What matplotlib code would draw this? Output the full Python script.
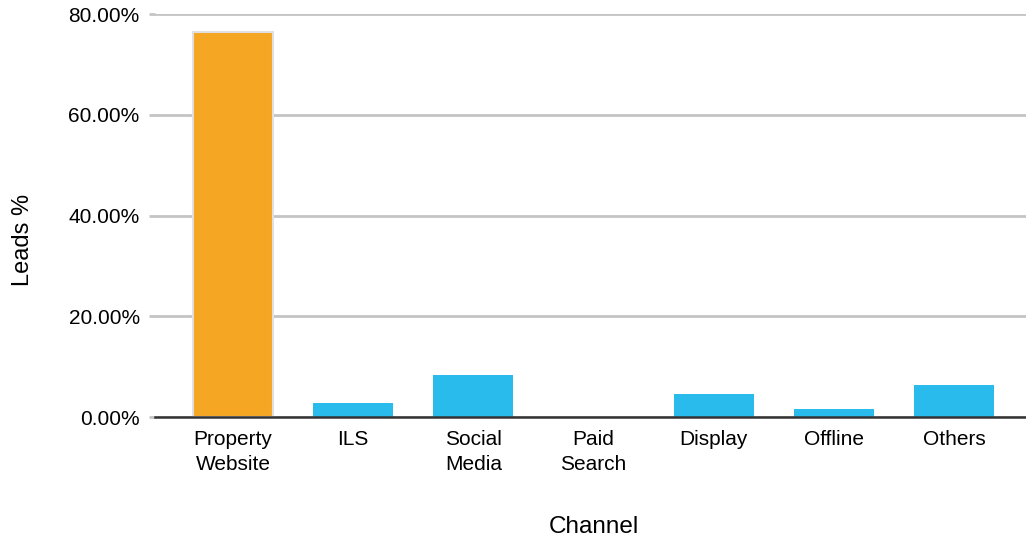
import matplotlib
matplotlib.use('Agg')
import matplotlib.pyplot as plt
from matplotlib.ticker import FuncFormatter

plt.rcParams['font.family'] = ['Liberation Sans', 'DejaVu Sans']

channels = ['Property\nWebsite', 'ILS', 'Social\nMedia', 'Paid\nSearch', 'Display', 'Offline', 'Others']
leads_pct = [76.4, 2.7, 8.3, 0.0, 4.5, 1.65, 6.3]
colors = ['#F5A623'] + ['#29BBEC'] * 6
edges = ['#E0E0E0'] + ['none'] * 6

fig = plt.figure(figsize=(10.26, 5.43), dpi=100)
ax = fig.add_axes([0.151, 0.232, 0.855, 0.742])

x = list(range(len(channels)))
ax.bar(x, leads_pct, width=0.667, color=colors, edgecolor=edges, linewidth=1.5, zorder=3)

ax.set_ylim(0, 80)
ax.set_xlim(-0.65, 6.65)
ax.set_yticks([0, 20, 40, 60, 80])
ax.yaxis.set_major_formatter(FuncFormatter(lambda v, p: f'{v:.2f}%'))
ax.grid(axis='y', color='#C4C4C4', linewidth=2, zorder=0)
ax.set_axisbelow(True)

ax.set_xticks(x)
ax.set_xticklabels(channels, fontsize=15, linespacing=1.42)
ax.tick_params(axis='x', length=0, pad=9)
ax.tick_params(axis='y', length=4, width=2, color='#C4C4C4', labelsize=15, pad=7)

for s in ['top', 'right', 'left']:
    ax.spines[s].set_visible(False)
ax.spines['bottom'].set_color('#333333')
ax.spines['bottom'].set_linewidth(1.8)
ax.spines['bottom'].set_zorder(4)

ax.set_xlabel('Channel', fontsize=17.5, va='center')
ax.xaxis.set_label_coords(0.5, -0.273)
ax.set_ylabel('Leads %', fontsize=17)
ax.yaxis.set_label_coords(-0.138, 0.439)

fig.savefig('out.png', dpi=100)
